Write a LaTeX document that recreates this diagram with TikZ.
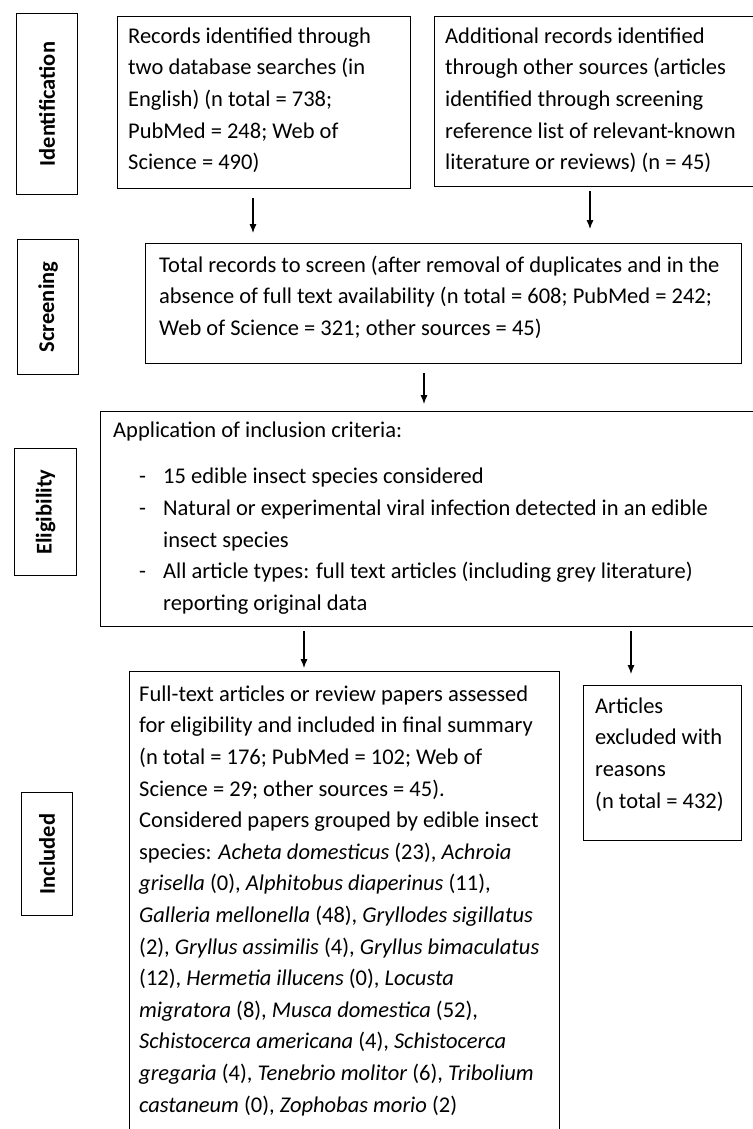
\documentclass[tikz,border=0pt]{standalone}
\usepackage{fontspec}
\setmainfont{Carlito}
\usetikzlibrary{calc,arrows.meta}
\newcommand{\bul}{\makebox[50pt][l]{\hspace{26pt}-}}
\newcommand{\ind}{\hspace*{50pt}}
\newcommand{\fl}{\rule{0pt}{18pt}}
\begin{document}
\begin{tikzpicture}[x=1pt,y=-1pt,
  box/.style={draw, line width=1.2pt, inner sep=0pt, anchor=north west},
  txt/.style={anchor=north west, inner sep=0pt, align=left, font=\fontsize{22.5pt}{31.6pt}\selectfont},
  labtxt/.style={rotate=90, inner sep=0pt, font=\fontsize{22.5pt}{27pt}\selectfont\bfseries},
  arr/.style={line width=1.4pt, -{Latex[length=9pt,width=7pt]}}]
\useasboundingbox (0,0) rectangle (752,1129);

% stage labels
\node[box, minimum width=61pt, minimum height=181pt] (l1) at (16,13) {};
\node[labtxt] (l1t) at (l1.center) {Identification};
\node[box, minimum width=61pt, minimum height=135pt] (l2) at (17,239) {};
\node[labtxt] (l2t) at (l2.center) {Screening};
\node[box, minimum width=62pt, minimum height=127pt] (l3) at (14,448) {};
\node[labtxt] (l3t) at (l3.center) {Eligibility};
\node[box, minimum width=51pt, minimum height=123pt] (l4) at (21,792) {};
\node[labtxt] (l4t) at (l4.center) {Included};

% boxes
\node[box, minimum width=293pt, minimum height=172pt] (b1) at (117,16) {};
\node[txt] (b1t) at (128,25) {\fl Records identified through\\two database searches (in\\English) (n total = 738;\\PubMed = 248; Web of\\Science = 490)};

\node[box, minimum width=330pt, minimum height=170pt] (b2) at (434,16) {};
\node[txt] (b2t) at (445,25) {\fl Additional records identified\\through other sources (articles\\identified through screening\\reference list of relevant-known\\literature or reviews) (n = 45)};

\node[box, minimum width=596pt, minimum height=120pt] (b3) at (145,243) {};
\node[txt] (b3t) at (159,254) {\fl Total records to screen (after removal of duplicates and in the\\absence of full text availability (n total = 608; PubMed = 242;\\Web of Science = 321; other sources = 45)};

\node[box, minimum width=660pt, minimum height=215pt] (b4) at (100,411) {};
\node[txt] (b4t) at (113,419) {\fl Application of inclusion criteria:\\[15pt]
\bul 15 edible insect species considered\\
\bul Natural or experimental viral infection detected in an edible\\
\ind insect species\\
\bul All article types: full text articles (including grey literature)\\
\ind reporting original data};

\node[box, minimum width=430pt, minimum height=470pt] (b5) at (129,671) {};
\node[txt] (b5t) at (139,683) {\fl Full-text articles or review papers assessed\\
for eligibility and included in final summary\\
(n total = 176; PubMed = 102; Web of\\
Science = 29; other sources = 45).\\
Considered papers grouped by edible insect\\
species: \textit{Acheta domesticus} (23), \textit{Achroia}\\
\textit{grisella} (0), \textit{Alphitobus diaperinus} (11),\\
\textit{Galleria mellonella} (48), \textit{Gryllodes sigillatus}\\
(2), \textit{Gryllus assimilis} (4), \textit{Gryllus bimaculatus}\\
(12), \textit{Hermetia illucens} (0), \textit{Locusta}\\
\textit{migratora} (8), \textit{Musca domestica} (52),\\
\textit{Schistocerca americana} (4), \textit{Schistocerca}\\
\textit{gregaria} (4), \textit{Tenebrio molitor} (6), \textit{Tribolium}\\
\textit{castaneum} (0), \textit{Zophobas morio} (2)};

\node[box, minimum width=158pt, minimum height=155pt] (b6) at (583,685) {};
\node[txt] (b6t) at (595,695) {\fl Articles\\excluded with\\reasons\\(n total = 432)};

% arrows
\draw[arr] ($(b1.south west)+(136,9)$) -- ++(0,35);
\draw[arr] ($(b2.south west)+(156,4)$) -- ++(0,38);
\draw[arr] ($(b3.south west)+(279,9)$) -- ++(0,31);
\draw[arr] ($(b4.south west)+(204,4)$) -- ++(0,37);
\draw[arr] ($(b4.south west)+(531,4)$) -- ++(0,43);
\end{tikzpicture}
\end{document}
